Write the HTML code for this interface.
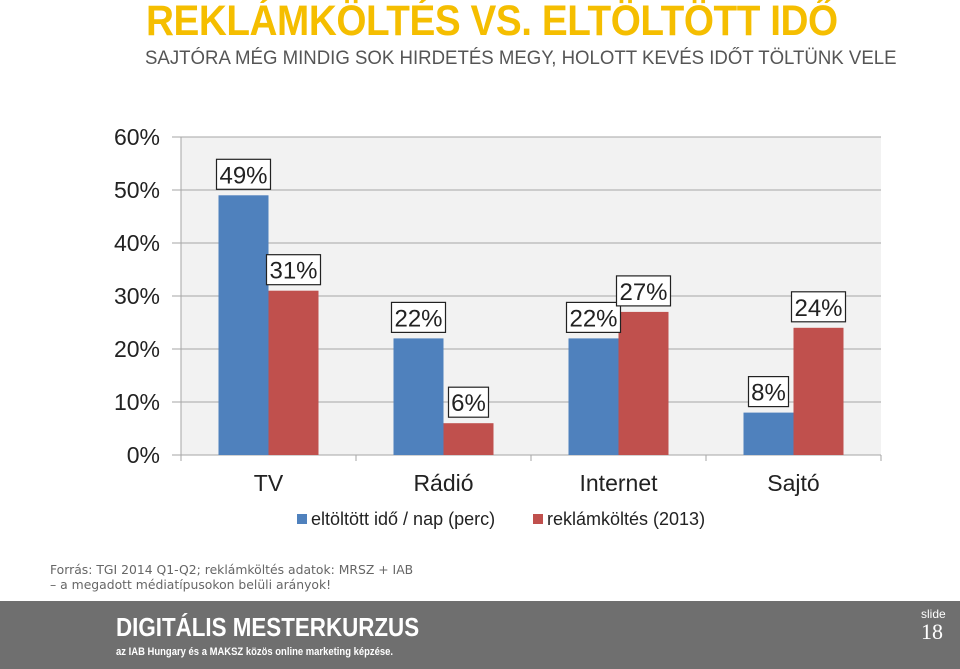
<!DOCTYPE html>
<html><head><meta charset="utf-8"><style>
body{margin:0;width:960px;height:669px;overflow:hidden;background:#fff;font-family:"Liberation Sans",sans-serif;position:relative}
.t{position:absolute;white-space:nowrap}
</style></head><body>
<div class="t" style="left:146px;top:-3px;font-size:43px;font-weight:bold;color:#f5be00;transform:scaleX(0.9);transform-origin:left top;letter-spacing:-0.5px">REKLÁMKÖLTÉS VS. ELTÖLTÖTT IDŐ</div>
<div class="t" style="left:145px;top:48px;font-size:19px;color:#555;transform:scaleX(0.98);transform-origin:left top">SAJTÓRA MÉG MINDIG SOK HIRDETÉS MEGY, HOLOTT KEVÉS IDŐT TÖLTÜNK VELE</div>
<svg id="chart" width="960" height="540" style="position:absolute;left:0;top:0" font-family="Liberation Sans, sans-serif"></svg>
<div class="t" style="left:50px;top:562px;font-size:12.5px;color:#666;font-family:'DejaVu Sans',sans-serif;line-height:15px;transform:scaleX(0.99);transform-origin:left top">Forrás: TGI 2014 Q1-Q2; reklámköltés adatok: MRSZ + IAB<br>– a megadott médiatípusokon belüli arányok!</div>
<div style="position:absolute;left:0;top:601px;width:960px;height:68px;background:#6f6f6f">
<div class="t" style="left:116px;top:11px;font-size:26px;font-weight:bold;color:#fff;transform:scaleX(0.86);transform-origin:left top">DIGITÁLIS MESTERKURZUS</div>
<div class="t" style="left:116px;top:45px;font-size:11px;font-weight:bold;color:#fff;transform:scaleX(0.86);transform-origin:left top">az IAB Hungary és a MAKSZ közös online marketing képzése.</div>
<div class="t" style="left:921px;top:6px;font-size:12px;color:#fff">slide</div>
<div class="t" style="left:921px;top:18px;font-size:22px;color:#fff;font-family:'Liberation Serif',serif">18</div>
</div>
<script>
const categories=["TV","Rádió","Internet","Sajtó"];
const timeValues=[49,22,22,8];
const spendValues=[31,6,27,24];
const timeLabels=["49%","22%","22%","8%"];
const spendLabels=["31%","6%","27%","24%"];
const yTicks=[0,10,20,30,40,50,60];
const seriesNames=["eltöltött idő / nap (perc)","reklámköltés (2013)"];
const NS="http://www.w3.org/2000/svg";
const svg=document.getElementById('chart');
const x0=181,x1=881,y0=455,y1=137,yMax=60;
const y=v=>y0-(v/yMax)*(y0-y1);
const bw=(x1-x0)/categories.length;
const xc=i=>x0+bw*(i+0.5);
function mk(tag,attrs,parent){const e=document.createElementNS(NS,tag);for(const k in attrs)e.setAttribute(k,attrs[k]);(parent||svg).appendChild(e);return e;}
let bg=mk('rect',{x:x0,y:y1,width:x1-x0,height:y0-y1,fill:'#f2f2f2'});


yTicks.forEach(v=>{
 let l=mk('line',{x1:172,x2:x1,y1:y(v),y2:y(v),stroke:'#a6a6a6','stroke-width':1});
 
 
 let t=mk('text',{x:160,y:y(v)+8,'text-anchor':'end','font-size':23,fill:'#222'});
 t.textContent=v+'%';
 
 
});
let ax=mk('line',{x1:x0,x2:x0,y1:y1,y2:y0,stroke:'#a6a6a6'});


for(let i=0;i<=categories.length;i++){
 let tk=mk('line',{x1:x0+bw*i,x2:x0+bw*i,y1:y0,y2:y0+6,stroke:'#a6a6a6'});
 
 
}
const barW=50;
function label(cx,top,txt,name){
 const w=txt.length*14+12,h=30,cy=top-21;
 let r=mk('rect',{x:cx-w/2,y:cy-h/2,width:w,height:h,fill:'#fff',stroke:'#222','stroke-width':1.2});
 
 
 let t=mk('text',{x:cx,y:cy+9,'text-anchor':'middle','font-size':24,fill:'#222'});
 t.textContent=txt;
 
 
}
categories.forEach((c,i)=>{
 const cx=xc(i);
 let b1=mk('rect',{x:cx-barW,y:y(timeValues[i]),width:barW,height:y0-y(timeValues[i]),fill:'#4f81bd'});
 
 
 let b2=mk('rect',{x:cx,y:y(spendValues[i]),width:barW,height:y0-y(spendValues[i]),fill:'#c0504d'});
 
 
 label(cx-barW/2,y(timeValues[i]),timeLabels[i],'label-time-'+c);
 label(cx+barW/2,y(spendValues[i]),spendLabels[i],'label-spend-'+c);
 let t=mk('text',{x:cx,y:491,'text-anchor':'middle','font-size':23,fill:'#222'});
 t.textContent=c;
 
 
});
const legX=[297,533],cols=['#4f81bd','#c0504d'];
seriesNames.forEach((s,i)=>{
 let r=mk('rect',{x:legX[i],y:514,width:10,height:10,fill:cols[i]});
 
 
 let t=mk('text',{x:legX[i]+14,y:525,'font-size':18,fill:'#222'});
 t.textContent=s;
 
 
});
</script>
</body></html>
